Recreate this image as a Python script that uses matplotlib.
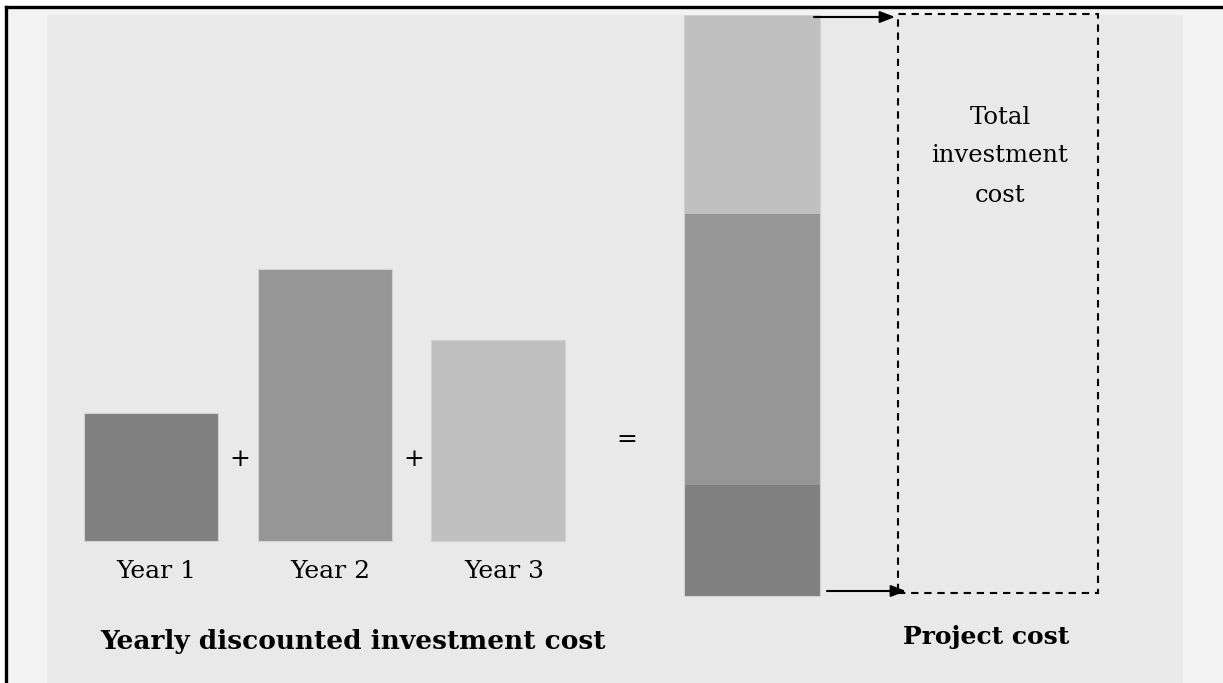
import matplotlib
matplotlib.use('Agg')
import matplotlib.pyplot as plt
from matplotlib.patches import Rectangle

# valores (altura em px)
years = ['Year 1', 'Year 2', 'Year 3']
year_cost = [128, 272, 201]
stack_cost = [111, 271, 199]   # base -> topo: ano 1, ano 2, ano 3
colors = ['#808080', '#969696', '#c0c0c0']
box_lines = ['Total', 'investment', 'cost']
left_title = 'Yearly discounted investment cost'
right_title = 'Project cost'

W, H = 1223, 683
fig = plt.figure(figsize=(W / 100., H / 100.), dpi=100)
fig.patch.set_facecolor('white')
ax = fig.add_axes([0, 0, 1, 1])
ax.set_xlim(0, W)
ax.set_ylim(0, H)
ax.axis('off')

# fundo
ax.add_patch(Rectangle((6, 0), W - 6, H - 7, fc='#f3f3f3', ec='none', zorder=0))
ax.add_patch(Rectangle((47, 0), 1136, H - 15, fc='#e9e9e9', ec='none', zorder=0))
ax.plot([6, 6], [0, H - 7], color='k', lw=2.4, solid_capstyle='projecting', zorder=5)
ax.plot([6, W], [H - 7, H - 7], color='k', lw=2.4, solid_capstyle='projecting', zorder=5)

font = 'DejaVu Serif'

# barras anuais
base_y = H - 541
xc = [150.5, 324.5, 498]
ax.bar(xc, year_cost, width=134, bottom=base_y, color=colors,
       edgecolor='#d2d2d2', linewidth=0.8, zorder=2)
for x, lab in zip(xc, years):
    ax.text(x + 6, H - 571, lab, ha='center', va='center', fontsize=18,
            family=font, zorder=3)

ax.text(240, H - 459, '+', ha='center', va='center', fontsize=18, family=font)
ax.text(414, H - 459, '+', ha='center', va='center', fontsize=18, family=font)
ax.text(627, H - 440, '=', ha='center', va='center', fontsize=18, family=font)

# barra empilhada
sb = H - 596
for v, c in zip(stack_cost, colors):
    ax.bar(752, v, width=136, bottom=sb, color=c, edgecolor='none', zorder=2)
    sb = sb + v
ax.bar(752, sum(stack_cost), width=136, bottom=H - 596, color='none',
       edgecolor='#d2d2d2', linewidth=0.8, zorder=2)

# caixa tracejada
ax.add_patch(Rectangle((898, H - 593), 200, 579, fc='none', ec='k', lw=1.5,
                       ls=(0, (3.5, 2.8)), zorder=3))
for i, s in enumerate(box_lines):
    ax.text(1000, H - 117 - 39 * i, s, ha='center', va='center', fontsize=17.5,
            family=font)

# setas
arr = dict(arrowstyle='-|>,head_length=0.9,head_width=0.35', color='k', lw=1.5,
           shrinkA=0, shrinkB=0)
ax.annotate('', xy=(895, H - 17), xytext=(814, H - 17), arrowprops=arr, zorder=4)
ax.annotate('', xy=(906, H - 591), xytext=(827, H - 591), arrowprops=arr, zorder=4)

ax.text(100, H - 641, left_title, ha='left', va='center', fontsize=19,
        fontweight='bold', family=font)
ax.text(986, H - 637, right_title, ha='center', va='center', fontsize=18,
        fontweight='bold', family=font)

fig.savefig('out.png', dpi=100, facecolor=fig.get_facecolor())
